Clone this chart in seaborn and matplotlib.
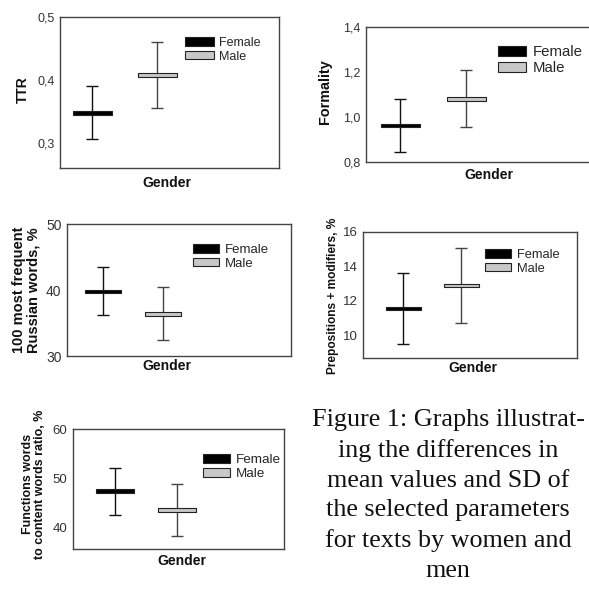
import matplotlib
matplotlib.use("Agg")
import matplotlib.pyplot as plt
from matplotlib.patches import Patch
from matplotlib.path import Path
import seaborn as sns
import pandas as pd

# ---------------- data ----------------
genders = ["Female", "Male"]

ttr_mean = [0.348, 0.408]
ttr_sd = [0.042, 0.053]

formality_mean = [0.962, 1.081]
formality_sd = [0.117, 0.127]

russian_mean = [39.8, 36.4]
russian_sd = [3.65, 4.0]

prep_mean = [11.54, 12.89]
prep_sd = [2.07, 2.16]

func_mean = [47.35, 43.47]
func_sd = [4.8, 5.3]

ttr_ticks = [0.3, 0.4, 0.5]
ttr_ticklabels = ["0,3", "0,4", "0,5"]
formality_ticks = [0.8, 1.0, 1.2, 1.4]
formality_ticklabels = ["0,8", "1,0", "1,2", "1,4"]
russian_ticks = [30, 40, 50]
prep_ticks = [10, 12, 14, 16]
func_ticks = [40, 50, 60]

caption = ("Figure 1: Graphs illustrat-\ning the differences in\nmean values and SD of\n"
           "the selected parameters\nfor texts by women and\nmen")

# ---------------- style ----------------
sns.set_theme(style="white")
plt.rcParams["font.family"] = ["Liberation Sans", "DejaVu Sans"]

W = H = 589
fig = plt.figure(figsize=(W / 100, H / 100), dpi=100)

colors = {"Female": "#000000", "Male": "#c8c8c8"}
edge = "#222222"
err_colors = ["#111111", "#444444"]

rect = Path([(-1, -0.1), (1, -0.1), (1, 0.1), (-1, 0.1), (-1, -0.1)],
            [Path.MOVETO, Path.LINETO, Path.LINETO, Path.LINETO, Path.CLOSEPOLY])


def fig_to_axes(ax, px, py):
    pt = fig.transFigure.transform((px / W, 1 - py / H))
    return ax.transAxes.inverted().transform(pt)


def panel(box, fx, mx, means, sds, ylim, ticks, ticklabels, ylabel, ylab_pos,
          ylab_size, tick_size, gender_pos, leg_pos, leg_size, barw,
          handlelength=2.2):
    left, top, right, bottom = box
    ax = fig.add_axes([left / W, 1 - bottom / H, (right - left) / W, (bottom - top) / H])
    unit = mx - fx
    df = pd.DataFrame({"Gender": genders, "x": [0, 1], "mean": means, "sd": sds})
    for i in range(2):
        ax.errorbar(df["x"][i], df["mean"][i], yerr=df["sd"][i], fmt="none",
                    ecolor=err_colors[i], elinewidth=1.0, capsize=4.2, capthick=1.0,
                    zorder=2)
    msize = barw * 72 / 100
    sns.scatterplot(data=df, x="x", y="mean", hue="Gender", palette=colors,
                    marker=rect, s=msize ** 2, edgecolor=edge, linewidth=0.8,
                    legend=False, ax=ax, zorder=3)
    ax.set_xlim((left - fx) / unit, (right - fx) / unit)
    ax.set_ylim(*ylim)
    ax.set_xticks([])
    ax.set_yticks(ticks)
    ax.set_yticklabels(ticklabels)
    ax.tick_params(axis="y", length=0, pad=4, labelsize=tick_size, labelcolor="#333333")
    for s in ax.spines.values():
        s.set_color("#444444")
        s.set_linewidth(1.0)
        s.set_visible(True)
    ax.set_xlabel("Gender", fontsize=10, fontweight="bold", color="#111111")
    ax.xaxis.set_label_coords(*fig_to_axes(ax, *gender_pos))
    ax.xaxis.label.set_va("center")
    ax.set_ylabel(ylabel, fontsize=ylab_size, fontweight="bold", color="#111111",
                  linespacing=1.05)
    ax.yaxis.set_label_coords(*fig_to_axes(ax, *ylab_pos))
    ax.yaxis.label.set_va("center")
    handles = [Patch(facecolor=colors["Female"], edgecolor=edge, linewidth=0.8),
               Patch(facecolor=colors["Male"], edgecolor=edge, linewidth=0.8)]
    lx, ly = leg_pos
    fig.legend(handles, genders, loc="upper left",
               bbox_to_anchor=(lx / W, 1 - ly / H), frameon=False,
               fontsize=leg_size, handlelength=handlelength, handleheight=0.65,
               handletextpad=0.45, labelspacing=0.12, borderpad=0,
               borderaxespad=0)
    return ax


panel((60, 17, 279, 168), 92, 157, ttr_mean, ttr_sd, (0.26, 0.5),
      ttr_ticks, ttr_ticklabels, "TTR", (23, 90), 10, 9, (167, 183),
      (185, 37), 9.0, 39, handlelength=2.3)

panel((366, 27, 594, 162), 400, 466, formality_mean, formality_sd, (0.8, 1.4),
      formality_ticks, formality_ticklabels, "Formality", (325, 92), 10.4, 9,
      (489, 175), (498, 45), 10.8, 39, handlelength=1.85)

panel((67, 224, 291, 356), 103, 163, russian_mean, russian_sd, (30, 50),
      russian_ticks, [str(t) for t in russian_ticks],
      "100 most frequent\nRussian words, %", (26, 290), 10.5, 10, (167, 366),
      (193, 244), 9.5, 36, handlelength=2.0)

panel((363, 232, 577, 358), 403, 461, prep_mean, prep_sd, (8.67, 16),
      prep_ticks, [str(t) for t in prep_ticks],
      "Prepositions + modifiers, %", (333, 296), 8.6, 9.5, (473, 368),
      (485, 249), 9.3, 35, handlelength=2.0)

panel((73, 429, 284, 549), 115, 177, func_mean, func_sd, (35.6, 60),
      func_ticks, [str(t) for t in func_ticks],
      "Functions words\nto content words ratio, %", (34, 484), 9, 9.5,
      (182, 561), (203, 454), 9.7, 38, handlelength=2.0)

fig.text(448 / W, 1 - 409 / H, caption, ha="center", va="top",
         fontsize=18.8, family=["Liberation Serif", "DejaVu Serif"],
         linespacing=1.45, color="#111111")

fig.savefig("out.png", dpi=100)
